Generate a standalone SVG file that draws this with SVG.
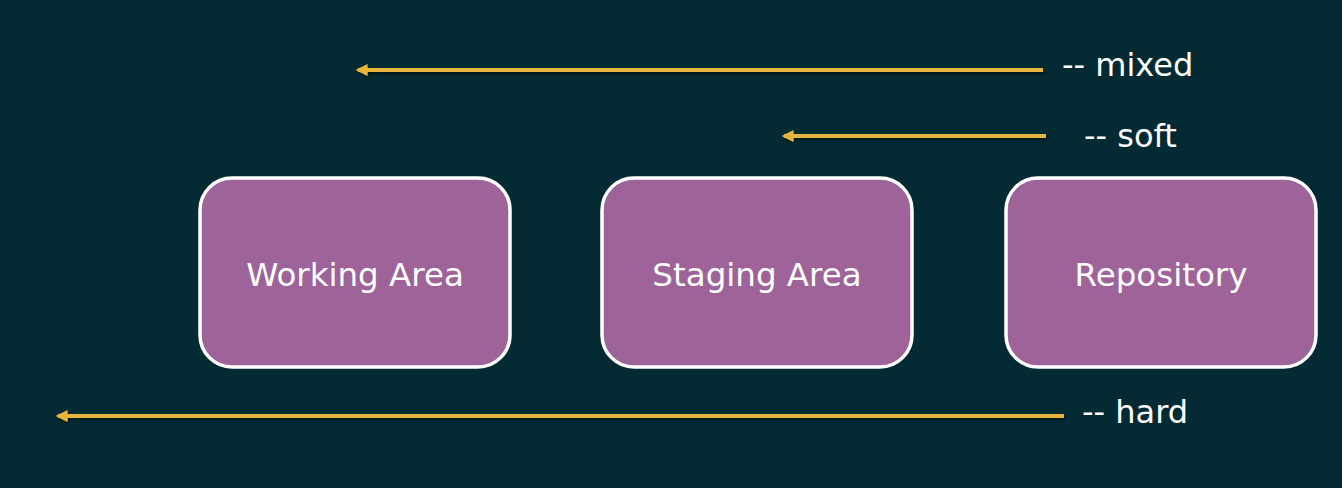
<svg xmlns="http://www.w3.org/2000/svg" width="1342" height="488" viewBox="0 0 1342 488">
<style>
.box{fill:#9e6399;stroke:#ffffff;stroke-width:3.5}
.lbl{font-family:"DejaVu Sans","Liberation Sans",sans-serif;font-size:32.5px;fill:#ffffff;text-anchor:middle}
.tag{font-family:"DejaVu Sans","Liberation Sans",sans-serif;font-size:32px;fill:#ffffff}
.arr{stroke:#e8b53c;stroke-width:4;fill:none}
</style>
<defs>
<marker id="ah" viewBox="0 0 10 10" refX="8" refY="5" markerWidth="3" markerHeight="3.2" orient="auto" markerUnits="strokeWidth">
<path d="M0,0 L10,5 L0,10 Z" fill="#e8b53c"/>
</marker>
<filter id="sh" x="-5%" y="-200%" width="110%" height="500%">
<feDropShadow dx="1" dy="2" stdDeviation="1.5" flood-color="#000" flood-opacity="0.5"/>
</filter>
</defs>
<rect width="1342" height="488" fill="#042a33"/>
<g id="connectors" filter="url(#sh)">
<line class="arr" x1="1043" y1="70" x2="358" y2="70" marker-end="url(#ah)"/>
<line class="arr" x1="1046" y1="136" x2="784" y2="136" marker-end="url(#ah)"/>
<line class="arr" x1="1064" y1="416" x2="58" y2="416" marker-end="url(#ah)"/>
</g>
<g id="working">
<rect class="box" x="200" y="178" width="310" height="189" rx="32"/>
<text class="lbl" x="355" y="286">Working Area</text>
</g>
<g id="staging">
<rect class="box" x="602" y="178" width="310" height="189" rx="32"/>
<text class="lbl" x="757" y="286">Staging Area</text>
</g>
<g id="repository">
<rect class="box" x="1006" y="178" width="310" height="189" rx="32"/>
<text class="lbl" x="1161" y="286">Repository</text>
</g>
<g id="labels">
<text class="tag" x="1062" y="76">-- mixed</text>
<text class="tag" x="1084" y="147">-- soft</text>
<text class="tag" x="1082" y="423">-- hard</text>
</g>
</svg>
